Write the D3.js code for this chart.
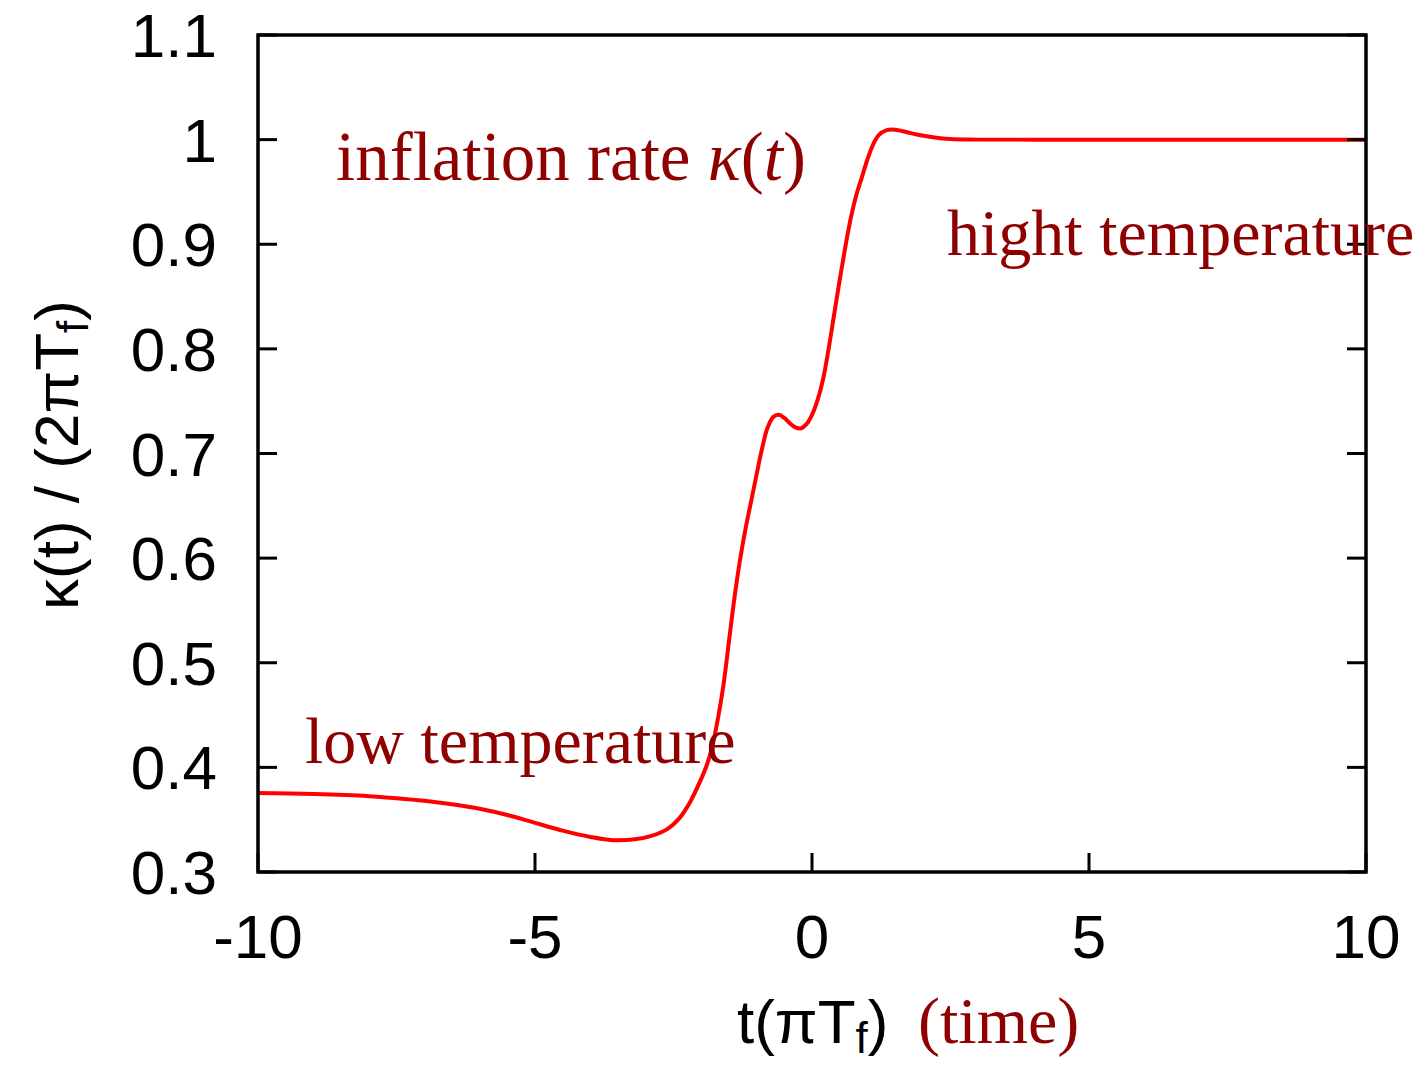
<!DOCTYPE html>
<html>
<head>
<meta charset="utf-8">
<script src="https://cdn.jsdelivr.net/npm/d3@7"></script>
<style>
  html, body { margin: 0; padding: 0; background: #fff; }
  svg { display: block; }
</style>
</head>
<body>
<svg id="chart" width="1418" height="1071"></svg>
<script>
// time in units of 1/(pi T_f)
const timeValues = [-10, -9, -8, -7.5, -7, -6.5, -6, -5.5, -5, -4.5, -4, -3.6, -3.2, -2.9, -2.6, -2.4, -2.2, -2.0, -1.9, -1.8, -1.7, -1.6, -1.5, -1.4, -1.3, -1.2, -1.1, -1.0, -0.9, -0.8, -0.7, -0.6, -0.5, -0.4, -0.3, -0.2, -0.1, 0, 0.1, 0.2, 0.3, 0.4, 0.5, 0.6, 0.7, 0.8, 0.9, 1.0, 1.1, 1.2, 1.35, 1.5, 1.8, 2.1, 2.5, 3, 4, 6, 8, 10];
// normalised inflation rate kappa(t) / (2 pi T_f)
const kappaValues = [0.3755, 0.3745, 0.3725, 0.3705, 0.368, 0.3647, 0.3605, 0.3545, 0.347, 0.3395, 0.3335, 0.3304, 0.3312, 0.3345, 0.3415, 0.351, 0.367, 0.389, 0.402, 0.42, 0.446, 0.478, 0.52, 0.562, 0.598, 0.628, 0.654, 0.68, 0.705, 0.725, 0.735, 0.737, 0.734, 0.729, 0.725, 0.724, 0.728, 0.737, 0.751, 0.771, 0.80, 0.833, 0.866, 0.897, 0.925, 0.947, 0.964, 0.981, 0.995, 1.004, 1.009, 1.0095, 1.006, 1.003, 1.0005, 1.0, 1.0, 1.0, 1.0, 1.0];

const xTicks = [-10, -5, 0, 5, 10];
const yTicks = [0.3, 0.4, 0.5, 0.6, 0.7, 0.8, 0.9, 1.0, 1.1];
const yTickLabels = ["0.3", "0.4", "0.5", "0.6", "0.7", "0.8", "0.9", "1", "1.1"];

(function draw() {
  const svg = d3.select("#chart");
  const plotL = 258, plotR = 1366, plotT = 35, plotB = 872;

  const x = d3.scaleLinear().domain([-10, 10]).range([plotL, plotR]);
  const y = d3.scaleLinear().domain([0.3, 1.1]).range([plotB, plotT]);

  const sans = "'Liberation Sans', Arial, Helvetica, sans-serif";
  const serif = "'Liberation Serif', 'Times New Roman', serif";
  const darkRed = "#8f0000";
  const tickLen = 19;

  // curve
  const points = timeValues.map((t, i) => [t, kappaValues[i]]);
  const line = d3.line().x(d => x(d[0])).y(d => y(d[1])).curve(d3.curveCatmullRom.alpha(0.5));
  svg.append("path")
    .attr("d", line(points))
    .attr("fill", "none")
    .attr("stroke", "#ff0000")
    .attr("stroke-width", 4)
    .attr("stroke-linejoin", "round");

  // ticks (inward, y mirrored on the right)
  const tickG = svg.append("g").attr("stroke", "#000").attr("stroke-width", 3);
  xTicks.forEach(t => {
    tickG.append("line").attr("x1", x(t)).attr("x2", x(t)).attr("y1", plotB).attr("y2", plotB - tickLen);
  });
  yTicks.forEach(v => {
    tickG.append("line").attr("x1", plotL).attr("x2", plotL + tickLen).attr("y1", y(v)).attr("y2", y(v));
    tickG.append("line").attr("x1", plotR).attr("x2", plotR - tickLen).attr("y1", y(v)).attr("y2", y(v));
  });

  // frame
  svg.append("rect")
    .attr("x", plotL).attr("y", plotT)
    .attr("width", plotR - plotL).attr("height", plotB - plotT)
    .attr("fill", "none").attr("stroke", "#000").attr("stroke-width", 3.5);

  // tick labels
  svg.append("g").selectAll("text").data(xTicks).join("text")
    .attr("x", d => x(d)).attr("y", 958)
    .attr("text-anchor", "middle")
    .attr("font-family", sans).attr("font-size", 62)
    .text(d => d);

  svg.append("g").selectAll("text").data(yTicks).join("text")
    .attr("x", 217).attr("y", d => y(d) + 22)
    .attr("text-anchor", "end")
    .attr("font-family", sans).attr("font-size", 62)
    .text((d, i) => yTickLabels[i]);

  // y axis title
  const yTitle = svg.append("text")
    .attr("transform", "translate(78,455) rotate(-90)")
    .attr("text-anchor", "middle")
    .attr("font-family", sans).attr("font-size", 62);
  yTitle.append("tspan").text("κ(t) / (2πT");
  yTitle.append("tspan").attr("font-size", 44).attr("dy", 10).text("f");
  yTitle.append("tspan").attr("dy", -10).text(")");

  // x axis title
  const xTitle = svg.append("text")
    .attr("x", 737).attr("y", 1043)
    .attr("font-family", sans).attr("font-size", 62);
  xTitle.append("tspan").text("t(πT");
  xTitle.append("tspan").attr("font-size", 44).attr("dy", 10).text("f");
  xTitle.append("tspan").attr("dy", -10).text(")");

  svg.append("text")
    .attr("x", 918).attr("y", 1043)
    .attr("font-family", serif).attr("font-size", 66)
    .attr("fill", darkRed)
    .text("(time)");

  // annotations
  const infl = svg.append("text")
    .attr("x", 336).attr("y", 180)
    .attr("font-family", serif).attr("font-size", 69)
    .attr("fill", darkRed);
  infl.append("tspan").text("inflation rate ");
  infl.append("tspan").attr("font-style", "italic").text("κ");
  infl.append("tspan").text("(");
  infl.append("tspan").attr("font-style", "italic").text("t");
  infl.append("tspan").text(")");

  svg.append("text")
    .attr("x", 947).attr("y", 255)
    .attr("font-family", serif).attr("font-size", 66)
    .attr("fill", darkRed)
    .text("hight temperature");

  svg.append("text")
    .attr("x", 305).attr("y", 763)
    .attr("font-family", serif).attr("font-size", 66)
    .attr("fill", darkRed)
    .text("low temperature");
})();
</script>
</body>
</html>
